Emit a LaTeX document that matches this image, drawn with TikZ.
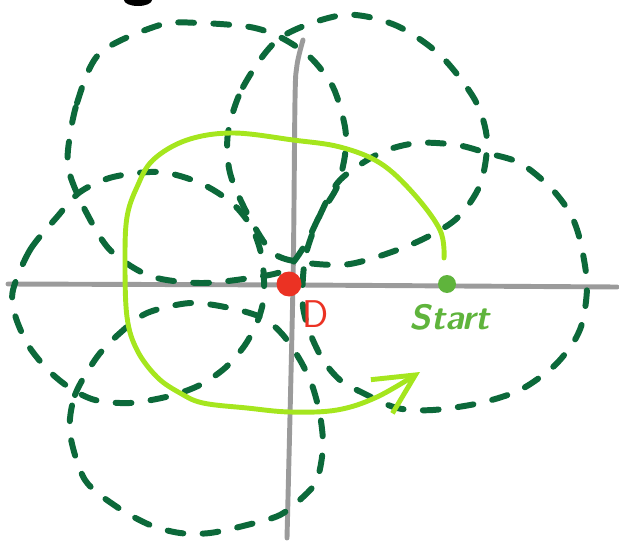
\documentclass[tikz,border=0pt]{standalone}
\usepackage{tikz}
\usetikzlibrary{arrows.meta}
\definecolor{OrbitGreen}{RGB}{12,105,58}
\definecolor{PathLime}{RGB}{165,230,30}
\definecolor{StartGreen}{RGB}{95,180,60}
\definecolor{OriginRed}{RGB}{235,50,35}
\definecolor{AxisGray}{RGB}{155,155,155}

\begin{document}
\begin{tikzpicture}[x=0.02cm, y=-0.02cm,
	orbit/.style={OrbitGreen, line width=3.4pt, line cap=round, dash pattern=on 9pt off 11pt},
	axisline/.style={AxisGray, line width=2.8pt, line cap=round},
	pointdot/.style={circle, fill, inner sep=0pt}]
	\useasboundingbox (0,0) rectangle (619,541);
	\draw[axisline] (8,284) -- (300,285) -- (617,287);
	\draw[axisline] plot[smooth] coordinates {(303,40) (297,65) (295,100) (293,283) (287,538)};
	\draw[orbit] plot[smooth cycle] coordinates {(228,133) (243,87) (280,38) (343,15) (395,25) (440,55) (475,100) (487,140) (480,185) (455,220) (410,245) (350,264) (300,262) (272,252) (248,215) (230,173)};
	\draw[orbit] plot[smooth cycle] coordinates {(68,150) (77,103) (100,53) (160,25) (200,23) (250,27) (280,37) (310,57) (333,87) (345,127) (345,155) (337,187) (320,215) (305,245) (285,270) (250,278) (200,283) (150,276) (110,250) (85,210) (70,175)};
	\draw[orbit] plot[smooth cycle] coordinates {(13,290) (30,250) (57,217) (80,192) (113,177) (160,172) (200,183) (232,203) (252,228) (262,258) (264,295) (258,320) (245,345) (225,368) (200,385) (170,396) (130,403) (95,400) (70,388) (48,370) (28,345) (15,315)};
	\draw[orbit] plot[smooth cycle] coordinates {(70,433) (75,395) (97,357) (120,333) (147,313) (190,303) (230,308) (263,318) (283,335) (300,360) (312,385) (320,415) (323,447) (317,480) (303,497) (280,515) (247,525) (210,533) (180,533) (150,525) (117,507) (85,480)};
	\draw[orbit] plot[smooth cycle] coordinates {(303,277) (307,250) (320,215) (340,180) (380,153) (417,143) (457,145) (487,153) (520,163) (550,187) (570,213) (580,240) (587,283) (583,320) (573,343) (553,367) (520,390) (480,403) (433,410) (397,408) (363,393) (340,380) (323,360) (310,333) (303,307)};
	\draw[PathLime, line width=2.8pt, line cap=round, -{Straight Barb[length=8mm, width=8mm]}]
		plot[smooth, tension=0.6] coordinates {(444,258) (440,230) (413,193) (380,163) (340,147) (293,140) (233,133) (187,140) (153,160) (137,187) (127,217) (125,260) (127,317) (137,350) (157,377) (180,393) (203,403) (247,408) (290,412) (337,410) (377,397) (420,372)};
	\node[pointdot, OriginRed, minimum size=0.5cm] (origin) at (289,284) {};
	\node[pointdot, StartGreen, minimum size=0.36cm] (start) at (447,284) {};
	\node[text=StartGreen, font=\sffamily\bfseries\itshape\fontsize{20}{22}\selectfont] (startlabel) at (450,317) {Start};
	\node[text=OriginRed, font=\sffamily\fontsize{22}{24}\selectfont] (dlabel) at (316,314) {D};
	\fill (138,0) ellipse [x radius=14, y radius=6];
\end{tikzpicture}
\end{document}
